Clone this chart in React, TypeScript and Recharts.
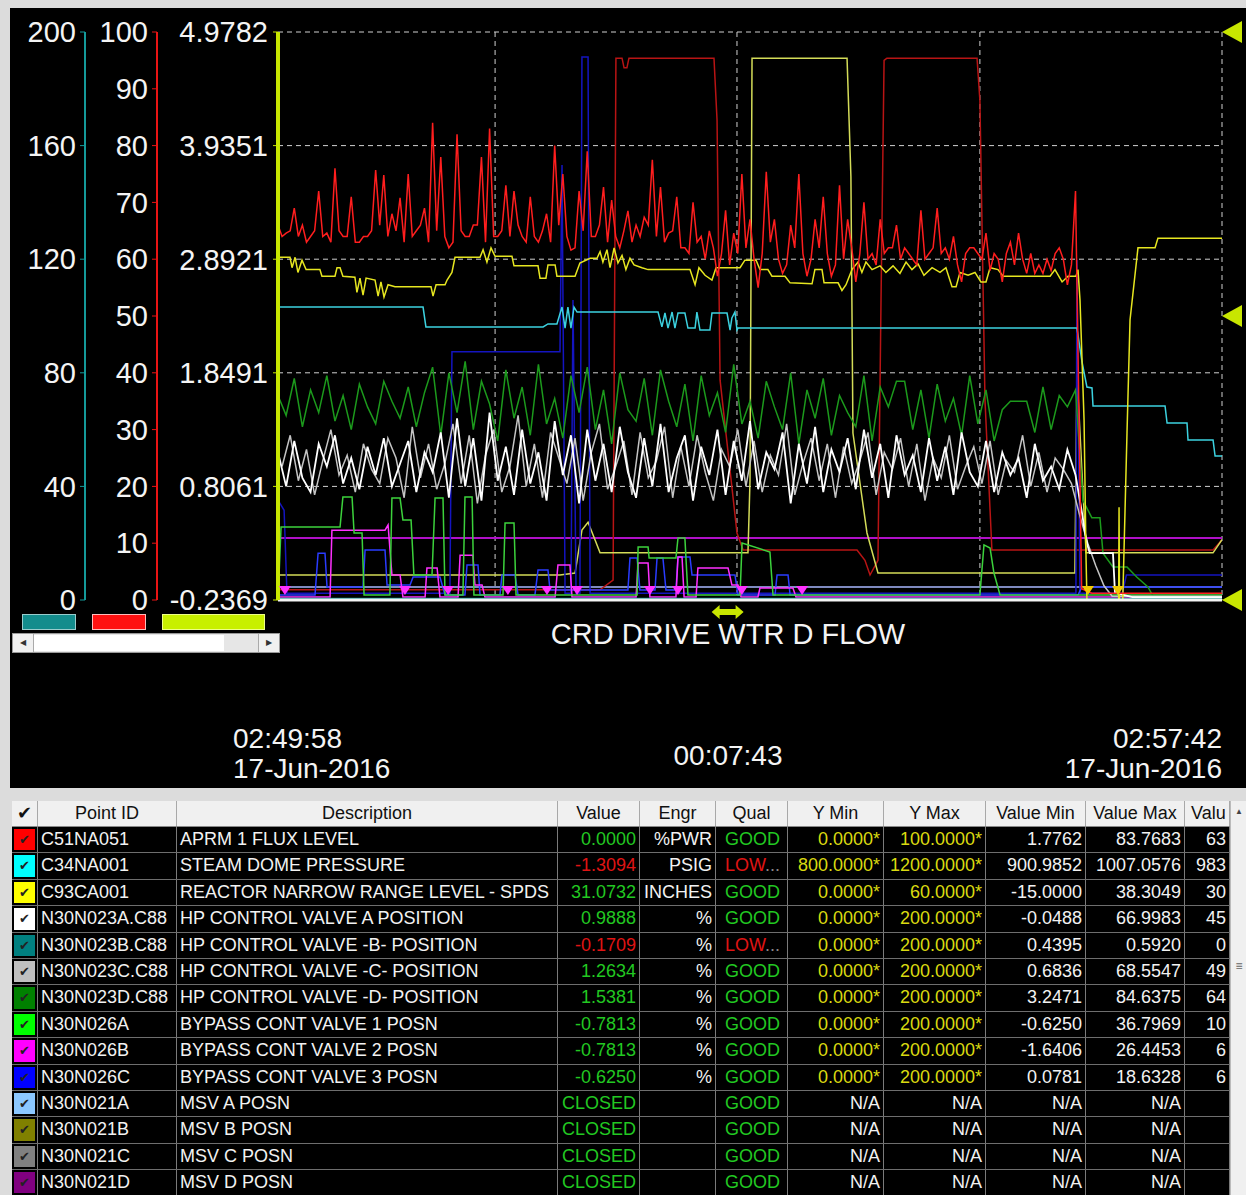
import React from "react";
import {
  CartesianGrid,
  ComposedChart,
  Line,
  ReferenceDot,
  ReferenceLine,
  Scatter,
  XAxis,
  YAxis,
} from "recharts";

const FONT = '"Liberation Sans", Arial, Helvetica, sans-serif';

// time axis: seconds after 02:49:58
const gridTimes = [0, 106.7, 225.6, 345, 464];
const tealTicks = [0, 40, 80, 120, 160, 200];
const redTicks = [0, 10, 20, 30, 40, 50, 60, 70, 80, 90, 100];
const yelTicks = [-0.2369, 0.8061, 1.8491, 2.8921, 3.9351, 4.9782];

// C51NA051 APRM, samples at 0, 4, 8 ... s
const aprmVals = [
  66, 64.6, 69, 66, 64, 72, 64.6, 76, 64, 71, 63, 64, 75.7, 74.8, 68, 70.8, 75, 65, 69, 84,
  78, 62, 82, 64, 66, 78, 83, 64, 73, 72, 64, 71, 63, 68, 80, 75, 61.6, 72, 79, 64,
  72.7, 70.4, 62, 68.5, 66, 67.4, 77.5, 72.7, 64.6, 71, 62, 70, 64, 65, 57, 68.6, 64.6, 75, 67, 55,
  75.4, 67, 57.5, 66, 75, 57, 67, 71, 57, 73, 67, 56, 70, 61, 67, 62, 66, 62, 60, 68.6,
  61, 69, 62, 64, 56, 62, 61, 64.6, 61, 56, 63, 64.6, 57.5, 57.5, 57.5, 58, 62, 55.5, 72,
];
// APRM samples in between, at 2, 6, 10 ... s
const aprmMid = [
  64, 65, 64, 63, 65, 64, 63, 65, 64, 63, 64, 65, 66, 64, 65, 63, 64, 66, 63, 65,
  64, 63, 65, 64, 66, 63, 64, 65, 64, 66, 63, 64, 65, 63, 66, 64, 62, 65, 64, 66,
  63, 64, 65, 63, 64, 66, 64, 63, 65,
  62, 61, 63, 60, 62, 61, 59, 61, 62, 60, 61, 63, 60, 59, 62, 61, 60, 62, 61, 59,
  60, 62, 61, 60, 59, 61, 62, 60, 61, 59, 60, 62, 61, 60, 59, 61, 62, 60, 58, 60,
  61, 59, 60, 61, 59, 60, 61, 60, 59,
];
const aprmTail = [[395, 2], [400, 1.2], [464, 1.2]];

// N30N023A HP CV A, every 4 s
const cvAVals = [
  52, 40, 56, 43, 38, 55, 47, 58, 41, 50, 39, 54, 44, 57, 40, 48, 56, 38, 52, 45,
  59, 36, 64, 40, 57, 35, 66, 42, 54, 37, 60, 41, 52, 35, 63,
  44, 58, 34, 60, 42, 55, 38, 61, 45, 36, 57, 40, 62, 38, 50, 58, 35, 54, 44, 60,
  37, 56, 42, 63, 39, 52, 46, 59, 34, 55, 41, 61, 38, 53, 45, 57,
  39, 60, 43, 55, 36, 58, 44, 51, 38, 57, 42, 54, 37, 59, 45, 40, 56, 38, 52, 44,
  50, 36, 55, 42, 47, 39, 53, 44,
];
const cvATail = [[395.2, 30.6], [396.7, 23.6], [398.1, 18.7], [399, 16.5], [410.4, 16.5], [411.4, 2.5], [420, 1], [464, 1]];

// N30N023C HP CV C, every 4 s starting at 2 s
const cvCVals = [
  47, 58, 42, 53, 37, 49, 60, 44, 51, 38, 55, 46, 41, 57, 50, 36, 61, 43, 55, 39,
  48, 62, 41, 58, 34, 51, 60, 38, 47, 65, 40, 55, 36, 59,
  50, 41, 57, 35, 52, 62, 39, 47, 56, 37, 59, 43, 49, 61, 36, 54, 40, 58, 45, 35,
  53, 47, 60, 40, 56, 38, 51, 44, 62, 37, 48, 57, 42, 55, 36,
  54, 41, 49, 59, 37, 52, 46, 57, 40, 55, 35, 50, 43, 58, 39, 47, 54, 41, 56, 37,
  49, 45, 58, 40, 52, 38, 50, 46, 41,
];
const cvCTail = [[394, 30], [398, 20], [402, 12], [406, 5], [410, 1.3], [464, 1.3]];

// N30N023D HP CV D, every 4 s
const cvDVals = [
  72, 65, 78, 61, 74, 66, 79, 63, 72, 60, 76, 68, 62, 77, 70, 64, 75, 61, 73, 82,
  58, 80, 66, 84, 60, 77, 69, 56, 81, 64, 75, 58, 83, 62, 71,
  57, 79, 66, 82, 60, 74, 55, 80, 67, 63, 78, 58, 81, 70, 61, 76, 56, 79, 65, 73,
  59, 83, 62, 70, 57, 77, 68, 60, 80, 55, 74, 64, 78, 58, 72, 66,
  61, 79, 56, 75, 68, 77, 77, 60, 74, 57, 76, 63, 71, 58, 79, 62, 74, 56, 67, 70,
  70, 70, 59, 75, 60, 72, 68, 74,
];
const cvDTail = [[395.7, 35], [400, 29], [404, 29], [405.5, 16.5], [410.4, 11.6], [417.3, 11.6], [422.2, 8], [427.6, 4.6], [430, 1.5], [464, 1.5]];

// C34NA001 steam dome pressure (psig)
const pressure = [
  [0, 1006.3], [71.3, 1006.3], [72.7, 992.3], [130.3, 992.3], [132.7, 994.4], [137.1, 994.4],
  [139.6, 1006.3], [141.1, 991.5], [142.5, 1006.3], [144, 991.5], [145.5, 1006.3], [147, 1002.8],
  [181.9, 1002.8], [186.8, 1002.8], [188.7, 992.3], [190.2, 1002.1], [191.7, 991.5], [193.7, 1002.8],
  [195.1, 991.5], [196.6, 1002.1], [200, 1002.1], [201.5, 991.5], [205, 991.5], [205.9, 1002.8],
  [207.4, 990.1], [212.3, 990.1], [213.3, 1002.1], [220.7, 1002.1], [222.2, 990.1], [223.1, 998.6],
  [224.6, 1002.8], [225.6, 990.1], [226.1, 991.5], [392.7, 991.5], [395.2, 967.6], [397.6, 950],
  [400.1, 949.3], [400.6, 936.6], [436, 936.6], [437, 924.6], [446.8, 924.6], [447.3, 912.7],
  [459.6, 912.7], [460.6, 901.4], [464, 901.4],
];

// C93CA001 reactor narrow range level (inches)
const level = [
  [0, 36.2], [5.9, 36.2], [6.9, 35.1], [8.4, 36.2], [9.8, 34.6], [11.8, 35.9], [13.8, 34.9], [20.6, 34.9],
  [21.6, 34.2], [28, 34.2], [29, 35.1], [30.5, 35.1], [31.9, 34.2], [37.8, 34.1], [38.8, 32.5], [40.3, 34],
  [41.8, 32.2], [43.3, 34], [47.7, 33.8], [49.2, 32.1], [50.6, 33.6], [52.1, 32], [54.1, 33.3], [57.5, 33.1],
  [75.2, 33.1], [76.2, 32.1], [77.7, 33.3], [82.1, 33.3], [83.1, 33.8], [85.5, 34.6], [87, 36.2], [99.3, 36.2],
  [100.8, 37], [102.7, 35.7], [104.7, 37.2], [106.7, 36.3], [115, 36.3], [116, 35.3], [127.8, 35.3], [128.8, 34],
  [131.7, 34], [132.7, 35.4], [136.2, 35.4], [137.1, 34.2], [146, 34.2], [148.4, 35.6], [153.4, 36.1], [156.8, 36.1],
  [158.3, 36.8], [159.7, 35.7], [161.7, 37], [163.2, 35.1], [165.2, 37.2], [167.1, 35.6], [169.1, 36.4], [171, 34.9],
  [173, 36.1], [175, 35.4], [178.9, 35.1], [181.9, 34.9], [202.5, 34.9], [205, 33.3], [206.9, 35.1], [209.9, 34.3],
  [213.3, 33.8], [215.3, 35.1], [227.1, 35.1], [229.5, 35.9], [235, 35.9], [236.9, 34.9], [240.8, 34.9], [242.8, 34.2],
  [249.2, 34.2], [251.7, 33.5], [262.5, 33.4], [263.9, 34.9], [267.4, 34.9], [268.4, 33.5], [275.3, 33.5], [277.2, 32.7],
  [279.2, 33.3], [282.1, 34.9], [285.1, 35.7], [287, 34.6], [289, 35.7], [292, 34.9], [295.9, 35.3], [298.8, 34.6],
  [302.3, 35.3], [305.7, 34.5], [308.7, 35.7], [311.6, 34.9], [314.6, 35.5], [317.5, 34.3], [321.5, 35.1], [325.4, 34.6],
  [328.3, 35.1], [331.3, 33.1], [333.3, 33.1], [335.2, 34.6], [339.2, 34.3], [342.6, 34.6], [345.5, 33.6], [348, 33.6],
  [350, 35.1], [353.9, 34.9], [356.4, 34.2], [379.5, 34.2], [381.9, 34.9], [385.4, 33.6], [388.3, 34.2], [392.2, 34.2],
  [393.2, 34.9], [394.2, 31.7], [396.2, 19], [397.2, 4.2], [399.1, -15], [412.9, -15], [413.4, 9.8], [413.9, -15],
  [415.3, 0.7], [417.3, 17.6], [418.8, 29.6], [422.7, 37.2], [431.1, 37.2], [432.5, 38.2], [464, 38.2],
];

// square pulses and spikes (percent of span)
const darkRedPulse = [
  [0, 1.8], [158.3, 1.8], [164.7, 3.5], [166.1, 95.4], [169.1, 95.4], [170.1, 93.7], [171.5, 93.7], [172.5, 95.4],
  [214.3, 95.4], [215.8, 84.5], [217.3, 38.7], [225.6, 11.8], [228.6, 8.8], [284.6, 8.8], [288.5, 7], [291, 4.4],
  [294.9, 7], [296.4, 52.8], [297.9, 95], [299.3, 95.4], [343.6, 95.4], [345, 88], [347.5, 35.2], [350.9, 8.8],
  [459.6, 8.8], [464, 10.6],
];
const olivePulse = [
  [0, 4.4], [138.6, 4.4], [146, 4.75], [149.4, 12.3], [152.4, 13.7], [155.8, 10.6], [158.3, 8.3], [231, 8.3],
  [232, 21], [233, 95.4], [279.7, 95.4], [280.7, 84.5], [281.6, 74.5], [282.6, 29.4], [289.5, 11.8], [294.9, 4.75],
  [391.7, 4.75], [392.7, 40], [397.2, 8.3], [459.6, 8.3], [464, 10.6],
];
const blueSpike = [
  [0, 17.6], [3, 15.8], [4.4, 1.2], [84.5, 1.2], [85.5, 43.7], [138.6, 43.7], [139.6, 76.6], [141.1, 1.2],
  [144, 1.2], [145, 52.8], [146.5, 1.2], [148.4, 1.2], [149.4, 95.6], [152.4, 95.6], [153.4, 1.2], [392.2, 1.2],
  [392.7, 59.9], [394.2, 1.2], [415, 1.2], [417, 4.4], [464, 4.4],
];

// bypass valves (percent, 0-200 span)
const bypass1 = [
  [0, 0], [1.5, 25.7], [30.5, 25.7], [31.9, 36.3], [36.4, 36.3], [37.4, 23.6], [41.3, 23.6], [42.3, 1.8],
  [55, 1.8], [56, 35.9], [60, 35.9], [61.4, 28.2], [65.4, 28.2], [66.8, 8.8], [75.7, 8.8], [77.2, 35.9],
  [81.1, 35.9], [82.1, 1.8], [90.9, 1.8], [91.9, 36.3], [95.4, 36.3], [96.3, 1.8], [110.6, 1.8], [111.6, 27.1],
  [116, 27.1], [117, 1.8], [176.5, 1.8], [177, 18.7], [181.9, 18.7], [182.4, 14.8], [195.6, 14.8], [196.6, 21.8],
  [200, 21.8], [201.5, 1.8], [227.1, 1.8], [228.1, 20.1], [241.8, 16.9], [243.3, 1.8], [345, 1.8], [347, 19.4],
  [350, 18.3], [351.9, 9.5], [354.9, 1.8], [464, 1.8],
];
const bypass2 = [
  [0, 1.1], [25.6, 1.1], [26.5, 24.6], [52.6, 24.6], [54.1, 26.4], [56, 8.8], [60, 8.8], [61.4, 1.1],
  [72.3, 1.1], [73.2, 11.3], [78.2, 11.3], [79.6, 1.1], [88.5, 1.1], [89.5, 15.8], [95.8, 15.8], [96.8, 5.3],
  [100.3, 5.3], [101.7, 1.1], [136.2, 1.1], [137.6, 12.3], [143.5, 12.3], [144.5, 1.1], [176, 1.1], [177, 13],
  [181.9, 13], [182.8, 1.1], [195.6, 1.1], [196.6, 15.1], [198.6, 15.1], [199.6, 1.1], [205.5, 1.1], [206.4, 11.3],
  [221.2, 11.3], [223.1, 5.3], [226.1, 5.3], [227.6, 1.1], [235.9, 1.1], [236.9, 4.2], [253.1, 4.2], [254.6, 1.1],
  [464, 1.1],
];
const bypass3 = [
  [0, 1.8], [18.2, 1.8], [19.7, 16.5], [23.1, 16.5], [24.1, 4.6], [41.8, 4.6], [42.8, 17.6], [52.6, 17.6],
  [53.6, 5.3], [64.9, 5.3], [66.4, 8.1], [79.6, 8.1], [82.1, 1.8], [91.9, 1.8], [92.9, 12.3], [98.3, 12.3],
  [99.3, 1.8], [109.1, 1.8], [110.1, 8.8], [116.5, 8.8], [118, 1.8], [126.3, 1.8], [127.8, 10.6], [132.7, 10.6],
  [133.7, 3.5], [172, 3.5], [173, 14.8], [176.5, 14.8], [177.9, 3.5], [185.3, 3.5], [186.3, 14.8], [189.2, 14.8],
  [190.7, 3.5], [195.6, 3.5], [196.6, 15.1], [202.5, 15.1], [203.5, 8.8], [224.6, 8.8], [226.1, 1.8], [244.3, 1.8],
  [245.3, 8.8], [250.7, 8.8], [251.7, 1.8], [393.2, 1.8], [395.2, 4.6], [464, 4.6],
];
const cvB = [[0, 0.5], [464, 0.5]];
const msvD = [[0, 10.9], [464, 10.9]];
const msvA = [[0, 2.3], [464, 2.3]];

// event markers
const bypassEvents = [3.4, 62.4, 83.6, 113, 132.2, 147, 182.8, 196.6, 228, 257.6];
const levelEvents = [398.1, 412.9];

const pts = (p: number[][]) => p.map(([t, v]) => ({ t, v }));
const every = (vals: number[], start: number, step: number) => vals.map((v, i) => ({ t: start + i * step, v }));
const byTime = (a: { t: number; v: number }[]) => [...a].sort((p, q) => p.t - q.t);

// axis ids (visible ones sort yellow, red, teal from the plot outwards)
const Y_YEL = "a_yel";
const Y_RED = "b_red";
const Y_TEAL = "c_teal";
const Y_VALVE = "d_valve";
const Y_PRESS = "e_press";
const Y_LVL = "f_lvl";

const series = [
  { id: "msvD", axis: Y_RED, color: "#b010c8", w: 2, data: pts(msvD) },
  { id: "msvA", axis: Y_RED, color: "#a8b8ff", w: 1.5, data: pts(msvA) },
  { id: "dkred", axis: Y_RED, color: "#b81414", w: 1.5, data: pts(darkRedPulse) },
  { id: "olive", axis: Y_RED, color: "#d4dc58", w: 1.5, data: pts(olivePulse) },
  { id: "bspike", axis: Y_RED, color: "#1414c0", w: 1.5, data: pts(blueSpike) },
  { id: "byp3", axis: Y_VALVE, color: "#2a3cff", w: 1.5, data: pts(bypass3) },
  { id: "byp2", axis: Y_VALVE, color: "#ff30ff", w: 1.5, data: pts(bypass2) },
  { id: "byp1", axis: Y_VALVE, color: "#3cd23c", w: 1.5, data: pts(bypass1) },
  { id: "cvB", axis: Y_VALVE, color: "#0a8c8c", w: 1.5, data: pts(cvB) },
  { id: "press", axis: Y_PRESS, color: "#3cd2e0", w: 1.5, data: pts(pressure) },
  { id: "cvD", axis: Y_VALVE, color: "#1c9a1c", w: 1.5, data: [...every(cvDVals, 0, 4), ...pts(cvDTail)] },
  { id: "cvC", axis: Y_VALVE, color: "#c4c4c4", w: 1.5, data: [...every(cvCVals, 2, 4), ...pts(cvCTail)] },
  { id: "cvA", axis: Y_VALVE, color: "#ffffff", w: 1.8, data: [...every(cvAVals, 0, 4), ...pts(cvATail)] },
  { id: "level", axis: Y_LVL, color: "#e6e620", w: 1.5, data: pts(level) },
  {
    id: "aprm",
    axis: Y_RED,
    color: "#ff1e1e",
    w: 1.5,
    data: byTime([...every(aprmVals, 0, 4), ...every(aprmMid, 2, 4), ...pts(aprmTail)]),
  },
];

const Down = (color: string) => (p: any) => (
  <polygon points={`${p.cx - 6},${p.cy - 5} ${p.cx + 6},${p.cy - 5} ${p.cx},${p.cy + 4}`} fill={color} />
);
const LimitMark = (p: any) => (
  <polygon points={`${p.cx},${p.cy} ${p.cx + 20},${p.cy - 11} ${p.cx + 20},${p.cy + 11}`} fill="#c8e600" />
);
const Cursor = (p: any) => {
  const { cx, cy } = p;
  return (
    <polygon
      points={`${cx - 16},${cy} ${cx - 8},${cy - 7} ${cx - 8},${cy - 3} ${cx + 8},${cy - 3} ${cx + 8},${cy - 7} ${cx + 16},${cy} ${cx + 8},${cy + 7} ${cx + 8},${cy + 3} ${cx - 8},${cy + 3} ${cx - 8},${cy + 7}`}
      fill="#c8e600"
    />
  );
};

// table
const colW = [26, 139, 381, 82, 76, 72, 96, 102, 100, 99, 45];
const headers = ["✔", "Point ID", "Description", "Value", "Engr", "Qual", "Y Min", "Y Max", "Value Min", "Value Max", "Valu"];
const swatches = ["#ff0000", "#00ffff", "#ffff00", "#ffffff", "#008080", "#c0c0c0", "#008000", "#00ff00", "#ff00ff", "#0000ff", "#8cc8ff", "#808000", "#808080", "#800080"];
const pointIds = ["C51NA051", "C34NA001", "C93CA001", "N30N023A.C88", "N30N023B.C88", "N30N023C.C88", "N30N023D.C88", "N30N026A", "N30N026B", "N30N026C", "N30N021A", "N30N021B", "N30N021C", "N30N021D"];
const descs = ["APRM 1 FLUX LEVEL", "STEAM DOME PRESSURE", "REACTOR NARROW RANGE LEVEL - SPDS", "HP CONTROL VALVE A POSITION", "HP CONTROL VALVE -B- POSITION", "HP CONTROL VALVE -C- POSITION", "HP CONTROL VALVE -D- POSITION", "BYPASS CONT VALVE 1 POSN", "BYPASS CONT VALVE 2 POSN", "BYPASS CONT VALVE 3 POSN", "MSV A POSN", "MSV B POSN", "MSV C POSN", "MSV D POSN"];
const curVals = ["0.0000", "-1.3094", "31.0732", "0.9888", "-0.1709", "1.2634", "1.5381", "-0.7813", "-0.7813", "-0.6250", "CLOSED", "CLOSED", "CLOSED", "CLOSED"];
const engr = ["%PWR", "PSIG", "INCHES", "%", "%", "%", "%", "%", "%", "%", "", "", "", ""];
const qual = ["GOOD", "LOW", "GOOD", "GOOD", "LOW", "GOOD", "GOOD", "GOOD", "GOOD", "GOOD", "GOOD", "GOOD", "GOOD", "GOOD"];
const yMin = ["0.0000*", "800.0000*", "0.0000*", "0.0000*", "0.0000*", "0.0000*", "0.0000*", "0.0000*", "0.0000*", "0.0000*", "N/A", "N/A", "N/A", "N/A"];
const yMax = ["100.0000*", "1200.0000*", "60.0000*", "200.0000*", "200.0000*", "200.0000*", "200.0000*", "200.0000*", "200.0000*", "200.0000*", "N/A", "N/A", "N/A", "N/A"];
const valMin = ["1.7762", "900.9852", "-15.0000", "-0.0488", "0.4395", "0.6836", "3.2471", "-0.6250", "-1.6406", "0.0781", "N/A", "N/A", "N/A", "N/A"];
const valMax = ["83.7683", "1007.0576", "38.3049", "66.9983", "0.5920", "68.5547", "84.6375", "36.7969", "26.4453", "18.6328", "N/A", "N/A", "N/A", "N/A"];
const valCursor = ["63", "983", "30", "45", "0", "49", "64", "10", "6", "6", "", "", "", ""];

const GREEN = "#22c822";
const RED = "#e01414";
const YEL = "#dada10";

function Cell({ w, align, color, children }: { w: number; align: "left" | "right" | "center"; color?: string; children?: React.ReactNode }) {
  return (
    <div
      style={{
        width: w,
        boxSizing: "border-box",
        borderRight: "1px solid #7a7a7a",
        padding: "0 3px",
        textAlign: align,
        color: color || "#f2f2f2",
        whiteSpace: "nowrap",
        overflow: "hidden",
        lineHeight: "25px",
      }}
    >
      {children}
    </div>
  );
}

function DataTable() {
  return (
    <div style={{ position: "absolute", left: 12, top: 801, width: 1218, fontSize: 18, fontFamily: FONT }}>
      <div style={{ display: "flex", height: 26, boxSizing: "border-box", background: "#f0f0f0", borderBottom: "1px solid #888" }}>
        {headers.map((h, i) => (
          <div
            key={i}
            style={{
              width: colW[i],
              boxSizing: "border-box",
              borderRight: "1px solid #a8a8a8",
              textAlign: i === 10 ? "left" : "center",
              paddingLeft: i === 10 ? 6 : 0,
              lineHeight: "25px",
              color: "#111",
              whiteSpace: "nowrap",
              overflow: "hidden",
            }}
          >
            {h}
          </div>
        ))}
      </div>
      {pointIds.map((id, r) => {
        const bad = curVals[r].startsWith("-1.3") || curVals[r].startsWith("-0.17");
        return (
          <div key={id} style={{ display: "flex", height: 26.4, boxSizing: "border-box", background: "#000", borderBottom: "1px solid #6e6e6e" }}>
            <div style={{ width: colW[0], boxSizing: "border-box", borderRight: "1px solid #7a7a7a", padding: 2 }}>
              <div
                style={{
                  width: "100%",
                  height: "100%",
                  background: swatches[r],
                  color: "#222",
                  fontSize: 13,
                  textAlign: "center",
                  lineHeight: "21px",
                }}
              >
                ✔
              </div>
            </div>
            <Cell w={colW[1]} align="left">{id}</Cell>
            <Cell w={colW[2]} align="left">{descs[r]}</Cell>
            <Cell w={colW[3]} align="right" color={bad ? RED : GREEN}>{curVals[r]}</Cell>
            <Cell w={colW[4]} align="right">{engr[r]}</Cell>
            <Cell w={colW[5]} align="left" color={qual[r] === "LOW" ? RED : GREEN}>
              <span style={{ paddingLeft: 6 }}>{qual[r]}</span>
              {qual[r] === "LOW" && <span style={{ color: "#888" }}>...</span>}
            </Cell>
            <Cell w={colW[6]} align="right" color={yMin[r] === "N/A" ? "#f2f2f2" : YEL}>{yMin[r]}</Cell>
            <Cell w={colW[7]} align="right" color={yMax[r] === "N/A" ? "#f2f2f2" : YEL}>{yMax[r]}</Cell>
            <Cell w={colW[8]} align="right">{valMin[r]}</Cell>
            <Cell w={colW[9]} align="right">{valMax[r]}</Cell>
            <Cell w={colW[10]} align="right">{valCursor[r]}</Cell>
          </div>
        );
      })}
    </div>
  );
}

const tickStyle = { fill: "#f4f4f4", fontSize: 29, fontFamily: FONT };

export default function App() {
  return (
    <div style={{ position: "absolute", left: 0, top: 0, width: 1246, height: 1195, background: "#dcdcdc", overflow: "hidden", fontFamily: FONT }}>
      <div style={{ position: "absolute", left: 10, top: 8, width: 1236, height: 780, background: "#000" }}>
        <ComposedChart width={1236} height={620} margin={{ top: 24, right: 24, bottom: 28, left: 0 }}>
          <XAxis dataKey="t" type="number" domain={[0, 464]} allowDataOverflow hide />
          <YAxis
            yAxisId={Y_YEL}
            dataKey="v"
            width={121}
            domain={[-0.2369, 4.9782]}
            ticks={yelTicks}
            interval={0}
            allowDataOverflow
            tickFormatter={(v: number) => v.toFixed(4)}
            axisLine={{ stroke: "#c8e600", strokeWidth: 4 }}
            tickLine={{ stroke: "#c8e600" }}
            tickSize={5}
            tickMargin={5}
            tick={tickStyle}
          />
          <YAxis
            yAxisId={Y_RED}
            dataKey="v"
            width={72}
            domain={[0, 100]}
            ticks={redTicks}
            interval={0}
            allowDataOverflow
            axisLine={{ stroke: "#e81414", strokeWidth: 2 }}
            tickLine={{ stroke: "#e81414" }}
            tickSize={5}
            tickMargin={4}
            tick={tickStyle}
          />
          <YAxis
            yAxisId={Y_TEAL}
            dataKey="v"
            width={75}
            domain={[0, 200]}
            ticks={tealTicks}
            interval={0}
            allowDataOverflow
            axisLine={{ stroke: "#149a9a", strokeWidth: 2 }}
            tickLine={{ stroke: "#149a9a" }}
            tickSize={5}
            tickMargin={4}
            tick={tickStyle}
          />
          <YAxis yAxisId={Y_VALVE} dataKey="v" hide width={0} domain={[0, 200]} allowDataOverflow />
          <YAxis yAxisId={Y_PRESS} dataKey="v" hide width={0} domain={[800, 1200]} allowDataOverflow />
          <YAxis yAxisId={Y_LVL} dataKey="v" hide width={0} domain={[0, 60]} allowDataOverflow />
          <CartesianGrid
            yAxisId={Y_RED}
            stroke="#d0d0d0"
            strokeDasharray="5 4"
            horizontalValues={[20, 40, 60, 80, 100]}
            verticalValues={gridTimes}
          />
          {series.map((s) => (
            <Line
              key={s.id}
              yAxisId={s.axis}
              data={s.data}
              dataKey="v"
              type="linear"
              stroke={s.color}
              strokeWidth={s.w}
              dot={false}
              isAnimationActive={false}
            />
          ))}
          <ReferenceLine yAxisId={Y_RED} y={0} stroke="#f4f4f4" strokeWidth={3} ifOverflow="visible" />
          <Scatter yAxisId={Y_RED} data={bypassEvents.map((t) => ({ t, v: 1.6 }))} shape={Down("#ff30ff")} isAnimationActive={false} />
          <Scatter yAxisId={Y_RED} data={levelEvents.map((t) => ({ t, v: 1.6 }))} shape={Down("#f0c800")} isAnimationActive={false} />
          {[4.9782, 2.37065, -0.2369].map((y) => (
            <ReferenceDot key={y} yAxisId={Y_YEL} x={464} y={y} ifOverflow="visible" shape={LimitMark} />
          ))}
          <ReferenceDot yAxisId={Y_YEL} x={221} y={-0.347} ifOverflow="visible" shape={Cursor} />
        </ComposedChart>

        {/* axis colour keys */}
        <div style={{ position: "absolute", left: 12, top: 606, width: 52, height: 14, background: "#138c8c", border: "1px solid #9cc" }} />
        <div style={{ position: "absolute", left: 82, top: 606, width: 52, height: 14, background: "#ff1010", border: "1px solid #fbb" }} />
        <div style={{ position: "absolute", left: 152, top: 606, width: 101, height: 14, background: "#c8f000", border: "1px solid #ef8" }} />

        {/* scrollbar */}
        <div style={{ position: "absolute", left: 2, top: 625, width: 268, height: 20, background: "#e6e6e6", border: "1px solid #999", boxSizing: "border-box" }}>
          <div style={{ position: "absolute", left: 0, top: 0, width: 20, height: 18, background: "#f0f0f0", borderRight: "1px solid #aaa", fontSize: 8, lineHeight: "18px", textAlign: "center", color: "#333" }}>◀</div>
          <div style={{ position: "absolute", left: 21, top: 1, width: 190, height: 16, background: "#fff" }} />
          <div style={{ position: "absolute", right: 0, top: 0, width: 20, height: 18, background: "#f0f0f0", borderLeft: "1px solid #aaa", fontSize: 8, lineHeight: "18px", textAlign: "center", color: "#333" }}>▶</div>
        </div>

        <div style={{ position: "absolute", left: 418, width: 600, top: 611, textAlign: "center", color: "#f4f4f4", fontSize: 29, lineHeight: "30px" }}>
          CRD DRIVE WTR D FLOW
        </div>
        <div style={{ position: "absolute", left: 223, top: 716, color: "#f4f4f4", fontSize: 28, lineHeight: "30px" }}>
          02:49:58
          <br />
          17-Jun-2016
        </div>
        <div style={{ position: "absolute", left: 518, width: 400, top: 733, textAlign: "center", color: "#f4f4f4", fontSize: 28, lineHeight: "30px" }}>
          00:07:43
        </div>
        <div style={{ position: "absolute", right: 24, top: 716, color: "#f4f4f4", fontSize: 28, lineHeight: "30px", textAlign: "right" }}>
          02:57:42
          <br />
          17-Jun-2016
        </div>
      </div>

      <DataTable />

      {/* table scrollbar */}
      <div style={{ position: "absolute", left: 1230, top: 801, width: 16, height: 394, background: "#f0f0f0", borderLeft: "1px solid #bbb" }}>
        <div style={{ fontSize: 8, textAlign: "center", color: "#444", marginTop: 6 }}>▲</div>
        <div style={{ position: "absolute", top: 158, width: 16, textAlign: "center", fontSize: 12, color: "#666" }}>≡</div>
      </div>
    </div>
  );
}
